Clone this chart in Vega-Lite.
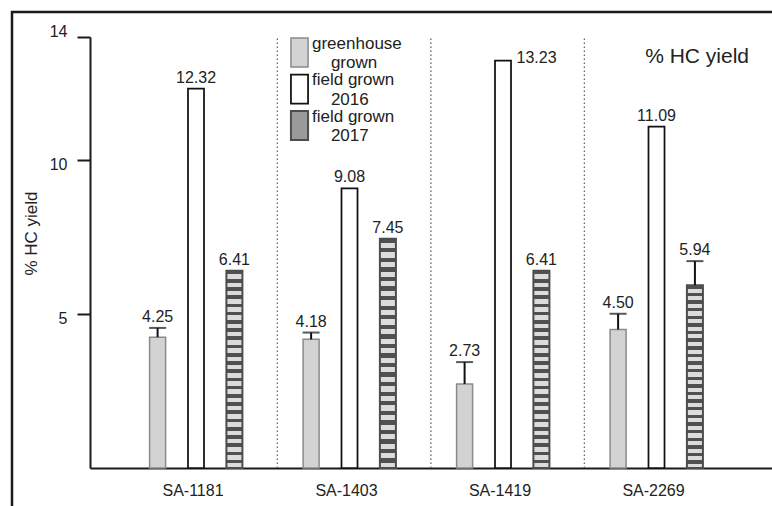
{
  "$schema": "https://vega.github.io/schema/vega-lite/v6.json",
  "width": 776,
  "height": 510,
  "autosize": {"type": "none"},
  "padding": {"left": 12, "top": 12, "right": 0, "bottom": 0},
  "background": "white",
  "config": {
    "view": {"stroke": "#1a1a1a", "strokeWidth": 2.5},
    "font": "Liberation Sans",
    "axis": {"grid": false, "labelFont": "Liberation Sans", "titleFont": "Liberation Sans", "labelColor": "#222", "titleColor": "#222"}
  },
  "title": {"text": "% HC yield", "anchor": "end", "frame": "group", "fontSize": 21, "font": "Liberation Sans", "fontWeight": "normal", "color": "#222", "baseline": "alphabetic", "offset": 0, "dx": -39, "dy": 72},
  "data": {
    "values": [
      {"group": "SA-1181", "series": "greenhouse grown", "value": 4.25, "upper": 4.55},
      {"group": "SA-1181", "series": "field grown 2016", "value": 12.32, "upper": null},
      {"group": "SA-1181", "series": "field grown 2017", "value": 6.41, "upper": null},
      {"group": "SA-1403", "series": "greenhouse grown", "value": 4.18, "upper": 4.4},
      {"group": "SA-1403", "series": "field grown 2016", "value": 9.08, "upper": null},
      {"group": "SA-1403", "series": "field grown 2017", "value": 7.45, "upper": null},
      {"group": "SA-1419", "series": "greenhouse grown", "value": 2.73, "upper": 3.44},
      {"group": "SA-1419", "series": "field grown 2016", "value": 13.23, "upper": null},
      {"group": "SA-1419", "series": "field grown 2017", "value": 6.41, "upper": null},
      {"group": "SA-2269", "series": "greenhouse grown", "value": 4.5, "upper": 5.01},
      {"group": "SA-2269", "series": "field grown 2016", "value": 11.09, "upper": null},
      {"group": "SA-2269", "series": "field grown 2017", "value": 5.94, "upper": 6.72}
    ]
  },
  "layer": [
    {
      "transform": [{"filter": "datum.series === 'greenhouse grown' && datum.group !== 'SA-1181'"}],
      "mark": {"type": "rule", "strokeDash": [1.5, 2.5], "color": "#666", "strokeWidth": 1.3},
      "encoding": {
        "x": {"field": "group", "type": "nominal", "bandPosition": 0.03},
        "y": {"datum": 0},
        "y2": {"datum": 14}
      }
    },
    {
      "mark": {"type": "bar"},
      "encoding": {
        "x": {
          "field": "group", "type": "nominal", "sort": null,
          "scale": {"domain": ["SA-1181", "SA-1403", "SA-1419", "SA-2269"], "range": [78, 790], "paddingInner": 0, "paddingOuter": 0.3192, "align": 0.2985},
          "axis": {"title": null, "orient": "bottom", "offset": -54, "ticks": false, "domainWidth": 2, "domainColor": "#1a1a1a", "labelFontSize": 16, "labelPadding": 14, "labelOffset": -3, "labelAngle": 0, "labelAlign": "center", "labelBaseline": "top"}
        },
        "xOffset": {
          "field": "series", "type": "nominal", "sort": null,
          "scale": {"domain": ["greenhouse grown", "field grown 2016", "field grown 2017"], "paddingInner": 0.583, "paddingOuter": 0.79}
        },
        "y": {
          "field": "value", "type": "quantitative",
          "scale": {"domain": [0, 14], "range": [456, 25], "nice": false, "zero": true},
          "axis": {"title": "% HC yield", "values": [5, 10, 14], "offset": -78, "tickSize": 13, "tickWidth": 2, "tickColor": "#1a1a1a", "domainWidth": 2, "domainColor": "#1a1a1a", "labelFontSize": 16, "labelPadding": 10, "labelOffset": {"condition": {"test": "datum.value == 14", "value": -6}, "value": 4}, "titleFontSize": 17, "titleFontWeight": "normal", "titleX": -59, "titleY": 221, "titleBaseline": "middle"}
        },
        "fill": {
          "condition": {"test": "datum.series === 'field grown 2017'", "value": {"gradient": "linear", "x1": 0, "y1": 0, "x2": 0, "y2": 1, "stops": [
            {"offset": 0, "color": "#505050"}, {"offset": 0.0188, "color": "#505050"}, {"offset": 0.0188, "color": "#dcdcdc"}, {"offset": 0.0417, "color": "#dcdcdc"},
            {"offset": 0.0417, "color": "#505050"}, {"offset": 0.0604, "color": "#505050"}, {"offset": 0.0604, "color": "#dcdcdc"}, {"offset": 0.0833, "color": "#dcdcdc"},
            {"offset": 0.0833, "color": "#505050"}, {"offset": 0.1021, "color": "#505050"}, {"offset": 0.1021, "color": "#dcdcdc"}, {"offset": 0.125, "color": "#dcdcdc"},
            {"offset": 0.125, "color": "#505050"}, {"offset": 0.1438, "color": "#505050"}, {"offset": 0.1438, "color": "#dcdcdc"}, {"offset": 0.1667, "color": "#dcdcdc"},
            {"offset": 0.1667, "color": "#505050"}, {"offset": 0.1854, "color": "#505050"}, {"offset": 0.1854, "color": "#dcdcdc"}, {"offset": 0.2083, "color": "#dcdcdc"},
            {"offset": 0.2083, "color": "#505050"}, {"offset": 0.2271, "color": "#505050"}, {"offset": 0.2271, "color": "#dcdcdc"}, {"offset": 0.25, "color": "#dcdcdc"},
            {"offset": 0.25, "color": "#505050"}, {"offset": 0.2688, "color": "#505050"}, {"offset": 0.2688, "color": "#dcdcdc"}, {"offset": 0.2917, "color": "#dcdcdc"},
            {"offset": 0.2917, "color": "#505050"}, {"offset": 0.3104, "color": "#505050"}, {"offset": 0.3104, "color": "#dcdcdc"}, {"offset": 0.3333, "color": "#dcdcdc"},
            {"offset": 0.3333, "color": "#505050"}, {"offset": 0.3521, "color": "#505050"}, {"offset": 0.3521, "color": "#dcdcdc"}, {"offset": 0.375, "color": "#dcdcdc"},
            {"offset": 0.375, "color": "#505050"}, {"offset": 0.3938, "color": "#505050"}, {"offset": 0.3938, "color": "#dcdcdc"}, {"offset": 0.4167, "color": "#dcdcdc"},
            {"offset": 0.4167, "color": "#505050"}, {"offset": 0.4354, "color": "#505050"}, {"offset": 0.4354, "color": "#dcdcdc"}, {"offset": 0.4583, "color": "#dcdcdc"},
            {"offset": 0.4583, "color": "#505050"}, {"offset": 0.4771, "color": "#505050"}, {"offset": 0.4771, "color": "#dcdcdc"}, {"offset": 0.5, "color": "#dcdcdc"},
            {"offset": 0.5, "color": "#505050"}, {"offset": 0.5188, "color": "#505050"}, {"offset": 0.5188, "color": "#dcdcdc"}, {"offset": 0.5417, "color": "#dcdcdc"},
            {"offset": 0.5417, "color": "#505050"}, {"offset": 0.5604, "color": "#505050"}, {"offset": 0.5604, "color": "#dcdcdc"}, {"offset": 0.5833, "color": "#dcdcdc"},
            {"offset": 0.5833, "color": "#505050"}, {"offset": 0.6021, "color": "#505050"}, {"offset": 0.6021, "color": "#dcdcdc"}, {"offset": 0.625, "color": "#dcdcdc"},
            {"offset": 0.625, "color": "#505050"}, {"offset": 0.6438, "color": "#505050"}, {"offset": 0.6438, "color": "#dcdcdc"}, {"offset": 0.6667, "color": "#dcdcdc"},
            {"offset": 0.6667, "color": "#505050"}, {"offset": 0.6854, "color": "#505050"}, {"offset": 0.6854, "color": "#dcdcdc"}, {"offset": 0.7083, "color": "#dcdcdc"},
            {"offset": 0.7083, "color": "#505050"}, {"offset": 0.7271, "color": "#505050"}, {"offset": 0.7271, "color": "#dcdcdc"}, {"offset": 0.75, "color": "#dcdcdc"},
            {"offset": 0.75, "color": "#505050"}, {"offset": 0.7688, "color": "#505050"}, {"offset": 0.7688, "color": "#dcdcdc"}, {"offset": 0.7917, "color": "#dcdcdc"},
            {"offset": 0.7917, "color": "#505050"}, {"offset": 0.8104, "color": "#505050"}, {"offset": 0.8104, "color": "#dcdcdc"}, {"offset": 0.8333, "color": "#dcdcdc"},
            {"offset": 0.8333, "color": "#505050"}, {"offset": 0.8521, "color": "#505050"}, {"offset": 0.8521, "color": "#dcdcdc"}, {"offset": 0.875, "color": "#dcdcdc"},
            {"offset": 0.875, "color": "#505050"}, {"offset": 0.8938, "color": "#505050"}, {"offset": 0.8938, "color": "#dcdcdc"}, {"offset": 0.9167, "color": "#dcdcdc"},
            {"offset": 0.9167, "color": "#505050"}, {"offset": 0.9354, "color": "#505050"}, {"offset": 0.9354, "color": "#dcdcdc"}, {"offset": 0.9583, "color": "#dcdcdc"},
            {"offset": 0.9583, "color": "#505050"}, {"offset": 0.9771, "color": "#505050"}, {"offset": 0.9771, "color": "#dcdcdc"}, {"offset": 1, "color": "#dcdcdc"}
          ]}},
          "field": "series", "type": "nominal", "sort": null,
          "scale": {"domain": ["greenhouse grown", "field grown 2016", "field grown 2017"], "range": ["#d3d3d3", "#ffffff", "#9a9a9a"]},
          "legend": {"orient": "none", "legendX": 272, "legendY": 25, "title": null, "padding": 0, "symbolType": "M-0.59,-1H0.59V1H-0.59Z", "symbolSize": 841, "symbolStrokeWidth": 1.7, "labelFontSize": 17, "labelFont": "Liberation Sans", "labelColor": "#222", "labelOffset": -3, "rowPadding": -0.5, "labelLimit": 200,
            "labelExpr": "datum.label == 'greenhouse grown' ? ['greenhouse', '\u200b\u00a0\u00a0\u00a0\u00a0grown'] : ['field grown', '\u200b\u00a0\u00a0\u00a0\u00a0' + slice(datum.label, 12)]",
            "encode": {
              "labels": {"update": {"lineHeight": {"value": 19.5}, "dy": {"value": -9}}}
            }}
        },
        "stroke": {
          "field": "series", "type": "nominal", "sort": null,
          "scale": {"domain": ["greenhouse grown", "field grown 2016", "field grown 2017"], "range": ["#8a8a8a", "#111111", "#4d4d4d"]}
        },
        "strokeWidth": {
          "field": "series", "type": "nominal", "sort": null,
          "scale": {"domain": ["greenhouse grown", "field grown 2016", "field grown 2017"], "range": [1.5, 2, 1.5]},
          "legend": null
        }
      }
    },
    {
      "transform": [{"filter": "isValid(datum.upper)"}],
      "mark": {"type": "rule", "color": "#111", "strokeWidth": 2},
      "encoding": {
        "x": {"field": "group", "type": "nominal"},
        "xOffset": {"field": "series", "type": "nominal"},
        "y": {"field": "value", "type": "quantitative"},
        "y2": {"field": "upper"}
      }
    },
    {
      "transform": [{"filter": "isValid(datum.upper)"}],
      "mark": {"type": "tick", "color": "#111", "thickness": 2, "size": 17, "orient": "horizontal"},
      "encoding": {
        "x": {"field": "group", "type": "nominal"},
        "xOffset": {"field": "series", "type": "nominal"},
        "y": {"field": "upper", "type": "quantitative"}
      }
    },
    {
      "transform": [{"filter": "datum.value < 13"}, {"calculate": "isValid(datum.upper) ? datum.upper : datum.value", "as": "labelY"}],
      "mark": {"type": "text", "baseline": "alphabetic", "dy": -6, "fontSize": 16, "font": "Liberation Sans", "color": "#222"},
      "encoding": {
        "x": {"field": "group", "type": "nominal"},
        "xOffset": {"field": "series", "type": "nominal"},
        "y": {"field": "labelY", "type": "quantitative"},
        "text": {"field": "value", "type": "quantitative", "format": ".2f"}
      }
    },
    {
      "transform": [{"filter": "datum.value >= 13"}],
      "mark": {"type": "text", "align": "left", "baseline": "middle", "dx": 13.5, "dy": -3, "fontSize": 16, "font": "Liberation Sans", "color": "#222"},
      "encoding": {
        "x": {"field": "group", "type": "nominal"},
        "xOffset": {"field": "series", "type": "nominal"},
        "y": {"field": "value", "type": "quantitative"},
        "text": {"field": "value", "type": "quantitative", "format": ".2f"}
      }
    }
  ]
}
